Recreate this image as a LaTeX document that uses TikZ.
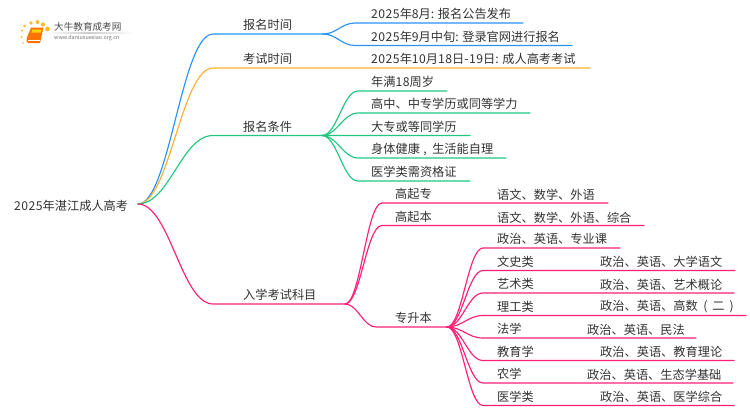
\documentclass[tikz,border=0pt]{standalone}
\usepackage{fontspec}
\setmainfont{Noto Sans CJK SC}
\usetikzlibrary{calc}
\definecolor{cblue}{HTML}{2A93FA}
\definecolor{corange}{HTML}{FBB02D}
\definecolor{cgreen}{HTML}{1FC87E}
\definecolor{cpink}{HTML}{FF1F78}
\definecolor{ctext}{HTML}{333333}
\newcommand\dg[1]{{\addfontfeature{LetterSpace=4}#1}}
\tikzset{
  lbl/.style={anchor=west,inner sep=0pt,text=ctext,font=\fontsize{12.2}{14}\selectfont},
  wire/.style={line width=1.15pt,line cap=round},
}
% \leaf{name}{parent}{x where curve ends}{y}{x text}{text}{x end}{colour}
\newcommand\leaf[8]{%
  \coordinate (#1s) at (#3,#4);
  \coordinate (#1e) at (#7,#4);
  \node[lbl] (#1) at (#5,#4-8.8) {#6};
  \draw[wire,#8] (#2) .. controls ($(#2)!.42!(#1s |- #2)$) and ($(#1s)!.42!(#2 |- #1s)$) .. (#1s) -- (#1e);
}
\begin{document}
\begin{tikzpicture}[x=1pt,y=-1pt]
\useasboundingbox (0,0) rectangle (750,410);
\fill[white] (0,0) rectangle (750,410);
% logo
\foreach \x/\y/\r in {23/43/.9,21.5/37/1,22/30.5/1.2,24.5/26/1.4,31/23/1.9,37.5/22/2,43/24.5/2.1,47.5/29/2.4}
  \fill[corange!85!yellow] (\x,\y) circle (\r);
\fill[orange!90!red] (31,27.5) -- (43.5,27.5) -- (40,43) -- (28.5,43) .. controls (26.5,43) and (26.2,41) .. (26.8,38) -- cycle;
\fill[yellow!70!orange] (32,29.5) -- (41.5,29.5) -- (40.8,32.5) -- (31.4,32.5) -- cycle;
\draw[white,line width=.5pt] (28,40.5) -- (40,40.5);
\shade[left color=white,right color=white,middle color=black!20] (45,32.8) rectangle (133,33.4);
\node[anchor=west,inner sep=0pt,text=black!70,font=\fontsize{9.6}{11}\selectfont] (logotext) at (54,27) {大牛教育成考网};
\node[anchor=west,inner sep=0pt,text=black!55,font=\fontsize{5.4}{6}\selectfont] (logourl) at (54,38.5) {www.daniuxuexiao.org.cn};
% root
\node[lbl] (root) at (14,205.5) {\dg{2025}年湛江成人高考};
\coordinate (r) at (138,204);
% level 1
\leaf{a}{r}{213}{34}{243}{报名时间}{323}{cblue}
\leaf{b}{r}{213}{68}{243}{考试时间}{590}{corange}
\leaf{c}{r}{213}{135.5}{243}{报名条件}{322}{cgreen}
\leaf{d}{r}{213}{304}{243}{入学考试科目}{345}{cpink}
% time
\leaf{a1}{ae}{355}{23}{371}{\dg{2025}年\dg{8}月\dg{:} 报名公告发布}{523}{cblue}
\leaf{a2}{ae}{355}{45.5}{371}{\dg{2025}年\dg{9}月中旬\dg{:} 登录官网进行报名}{572}{cblue}
\node[lbl] (b1) at (371,59.2) {\dg{2025}年\dg{10}月\dg{18}日\dg{-19}日\dg{:} 成人高考考试};
% conditions
\leaf{c1}{ce}{358}{91}{371}{年满\dg{18}周岁}{447}{cgreen}
\leaf{c2}{ce}{358}{113}{371}{高中、中专学历或同等学力}{530}{cgreen}
\leaf{c3}{ce}{358}{135.5}{371}{大专或等同学历}{470}{cgreen}
\leaf{c4}{ce}{358}{158}{371}{身体健康\hspace{3.5pt},\hspace{5.4pt}生活能自理}{506}{cgreen}
\leaf{c5}{ce}{358}{181}{371}{医学类需资格证}{470}{cgreen}
% subjects
\leaf{d1}{de}{382}{203}{395}{高起专}{608}{cpink}
\leaf{d2}{de}{382}{225.5}{395}{高起本}{644}{cpink}
\leaf{d3}{de}{376}{327}{395}{专升本}{447}{cpink}
\node[lbl] (d1a) at (497,195) {语文、数学、外语};
\node[lbl] (d2a) at (497,217.5) {语文、数学、外语、综合};
% upgrade
\leaf{e0}{d3e}{483}{248}{497}{政治、英语、专业课}{620}{cpink}
\leaf{e1}{d3e}{483}{270.5}{497}{文史类}{735}{cpink}
\leaf{e2}{d3e}{483}{293}{497}{艺术类}{734}{cpink}
\leaf{e3}{d3e}{483}{315.5}{497}{理工类}{746}{cpink}
\leaf{e4}{d3e}{483}{338}{497}{法学}{696}{cpink}
\leaf{e5}{d3e}{483}{360.5}{497}{教育学}{734}{cpink}
\leaf{e6}{d3e}{483}{383}{497}{农学}{733}{cpink}
\leaf{e7}{d3e}{483}{405.5}{497}{医学类}{734}{cpink}
\node[lbl] (e1a) at (600,262) {政治、英语、大学语文};
\node[lbl] (e2a) at (600,284.5) {政治、英语、艺术概论};
\node[lbl] (e3a) at (600,307) {政治、英语、高数\hspace{5.5pt}(\hspace{5pt}二\hspace{5pt})};
\node[lbl] (e4a) at (587,329.5) {政治、英语、民法};
\node[lbl] (e5a) at (600,352) {政治、英语、教育理论};
\node[lbl] (e6a) at (587,374.5) {政治、英语、生态学基础};
\node[lbl] (e7a) at (600,397) {政治、英语、医学综合};
\end{tikzpicture}
\end{document}
